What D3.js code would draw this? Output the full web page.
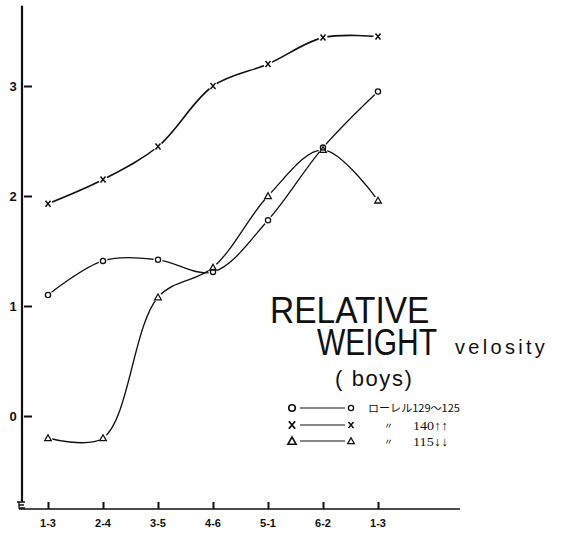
<!DOCTYPE html>
<html><head><meta charset="utf-8">
<script src="https://cdn.jsdelivr.net/npm/d3@7"></script>
<style>body{margin:0;background:#fff}svg{display:block}</style>
</head><body>
<script>
const categories = ["1-3","2-4","3-5","4-6","5-1","6-2","1-3"];
const yTicks = [0,1,2,3];
const seriesCircle = [1.10, 1.41, 1.42, 1.31, 1.78, 2.44, 2.95];
const seriesCross  = [1.93, 2.15, 2.45, 3.00, 3.20, 3.44, 3.45];
const seriesTri    = [-0.20, -0.20, 1.08, 1.35, 2.00, 2.42, 1.96];
const titleLines = ["RELATIVE","WEIGHT"];
const subtitle = "velosity";
const subtitle2 = "( boys)";
const legendLabels = [["ローレル","129〜125"],["〃","140↑↑"],["〃","115↓↓"]];

const W=583,H=534;
const svg=d3.select("body").append("svg").attr("width",W).attr("height",H);
const x=d3.scaleLinear().domain([0,6]).range([48,378]);
const y=d3.scaleLinear().domain([0,3]).range([416,86]);
const ink="#111";

// y axis
svg.append("line").attr("x1",22).attr("x2",22).attr("y1",y(3.73)).attr("y2",y(-0.78))
  .attr("stroke",ink).attr("stroke-width",2.2);
const yAxis=d3.axisRight(y).tickValues(yTicks).tickSize(8).tickFormat("");
const ga=svg.append("g").attr("transform","translate(24,0)").call(yAxis);
ga.select(".domain").remove();
ga.selectAll(".tick line").attr("stroke",ink).attr("stroke-width",2);
svg.selectAll(".ylab").data(yTicks).enter().append("text")
  .attr("x",13).attr("y",d=>y(d)+5).attr("text-anchor","middle")
  .attr("font-family","Liberation Sans, Arial").attr("font-weight","bold").attr("font-size",13)
  .attr("fill",ink).text(d=>d);

// axis break mark
svg.append("path").attr("d","M17,502 L25,502 M19,502 L19,508 L25,508 M19,505 L24,505")
  .attr("stroke",ink).attr("fill","none").attr("stroke-width",1.3);

// x axis
svg.append("line").attr("x1",19).attr("x2",460).attr("y1",509).attr("y2",509)
  .attr("stroke",ink).attr("stroke-width",1.6);
const xAxis=d3.axisTop(x).tickValues(d3.range(categories.length)).tickSize(7).tickFormat("");
const gx=svg.append("g").attr("transform","translate(0,509)").call(xAxis);
gx.select(".domain").remove();
gx.selectAll(".tick line").attr("stroke",ink).attr("stroke-width",2);
svg.selectAll(".xlab").data(categories).enter().append("text")
  .attr("x",(d,i)=>x(i)).attr("y",527).attr("text-anchor","middle")
  .attr("font-family","Liberation Sans, Arial").attr("font-weight","bold").attr("font-size",11)
  .attr("fill",ink).text(d=>d);

// lines
const line=d3.line().x((d,i)=>x(i)).y(d=>y(d)).curve(d3.curveCatmullRom.alpha(0.5));
const allSeries=[
  {v:seriesCross,m:"x"},
  {v:seriesCircle,m:"o"},
  {v:seriesTri,m:"t"}];
allSeries.forEach(s=>{
  svg.append("path").attr("d",line(s.v)).attr("fill","none").attr("stroke",ink).attr("stroke-width",s.m==="x"?1.6:1.3);
});
// halos to produce gaps near markers
allSeries.forEach(s=>{
  svg.selectAll(null).data(s.v).enter().append("circle")
    .attr("cx",(d,i)=>x(i)).attr("cy",d=>y(d)).attr("r",4.5).attr("fill","#fff");
});
function marker(g,type,cx,cy,k){
  k=k||1;
  if(type==="o"){
    g.append("circle").attr("cx",cx).attr("cy",cy).attr("r",2.6*k).attr("fill","none").attr("stroke",ink).attr("stroke-width",1.3*k);
  } else if(type==="x"){
    g.append("path").attr("d",`M${cx-2.5*k},${cy-3*k}L${cx+2.5*k},${cy+3*k}M${cx+2.5*k},${cy-3*k}L${cx-2.5*k},${cy+3*k}`).attr("stroke",ink).attr("stroke-width",1.5*k);
  } else {
    g.append("path").attr("d",`M${cx},${cy-3.2*k}L${cx+3.3*k},${cy+2.6*k}L${cx-3.3*k},${cy+2.6*k}Z`).attr("fill","none").attr("stroke",ink).attr("stroke-width",1.3*k);
  }
}
allSeries.forEach(s=>{
  s.v.forEach((d,i)=>marker(svg,s.m,x(i),y(d)));
});

// title: font sizes chosen so natural widths fit; stretched vertically
const tf="'Liberation Sans', Arial, sans-serif";
svg.append("text").attr("transform","translate(270,323) scale(1,1.1)")
  .attr("font-family",tf).attr("font-size",33.5).attr("fill",ink).text(titleLines[0]);
svg.append("text").attr("transform","translate(317,355) scale(1,1.22)")
  .attr("font-family",tf).attr("font-size",30).attr("fill",ink).text(titleLines[1]);
svg.append("text").attr("x",455).attr("y",354).attr("font-family",tf).attr("font-size",20)
  .attr("letter-spacing",3.3).attr("fill",ink).text(subtitle);
svg.append("text").attr("x",335).attr("y",386).attr("font-family",tf).attr("font-size",22)
  .attr("letter-spacing",1.6).attr("fill",ink).text(subtitle2);

// legend
const types=["o","x","t"];
const ly=[408,425,441];
types.forEach((t,i)=>{
  marker(svg,t,292,ly[i],1.25);
  svg.append("line").attr("x1",300).attr("x2",345).attr("y1",ly[i]).attr("y2",ly[i]).attr("stroke",ink).attr("stroke-width",1.2);
  marker(svg,t,351,ly[i]);
  const lab=legendLabels[i];
  if(i===0){
    svg.append("text").attr("x",368).attr("y",ly[i]+4).attr("font-family","Noto Sans CJK JP").attr("font-size",10.5).attr("fill",ink)
      .attr("textLength",92).attr("lengthAdjust","spacingAndGlyphs")
      .text(lab[0]+lab[1]);
  } else {
    svg.append("text").attr("x",384).attr("y",ly[i]+4).attr("font-family","Noto Sans CJK JP").attr("font-size",9).attr("fill",ink).text(lab[0]);
    svg.append("text").attr("x",413).attr("y",ly[i]+5).attr("font-family","Liberation Serif, Noto Sans CJK JP").attr("font-size",12.5).attr("fill",ink)
      .attr("textLength",35).attr("lengthAdjust","spacingAndGlyphs").text(lab[1]);
  }
});
</script>
</body></html>
